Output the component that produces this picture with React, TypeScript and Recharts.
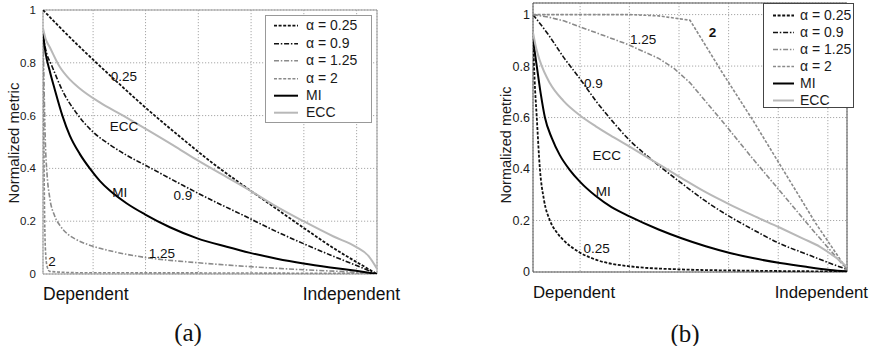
import React from 'react';
import { LineChart, Line, XAxis, YAxis, CartesianGrid, ReferenceDot, ReferenceArea } from 'recharts';

type Pt = [number, number];

// ---------- Panel (a) values: [position, normalized metric] ----------
const A_ALPHA_025: Pt[] = [[0,1],[0.05,0.935],[0.11,0.86],[0.16,0.8],[0.23,0.718],[0.3,0.638],[0.41,0.52],[0.51,0.418],[0.6,0.335],[0.69,0.255],[0.78,0.175],[0.89,0.082],[0.95,0.037],[1,0]];
const A_ALPHA_09: Pt[] = [[0,0.9],[0.01,0.84],[0.026,0.79],[0.06,0.69],[0.1,0.61],[0.148,0.54],[0.2,0.49],[0.25,0.45],[0.305,0.413],[0.42,0.335],[0.5,0.283],[0.6,0.222],[0.7,0.16],[0.78,0.115],[0.86,0.072],[0.937,0.033],[1,0]];
const A_ALPHA_125: Pt[] = [[0,0.92],[0.003,0.72],[0.007,0.5],[0.012,0.38],[0.02,0.29],[0.035,0.22],[0.05,0.185],[0.075,0.15],[0.1,0.13],[0.15,0.105],[0.2,0.088],[0.31,0.062],[0.46,0.043],[0.62,0.028],[0.78,0.016],[0.94,0.006],[1,0]];
const A_ALPHA_2: Pt[] = [[0,0.92],[0.002,0.6],[0.004,0.3],[0.007,0.1],[0.012,0.03],[0.02,0.01],[0.1,0.005],[0.5,0.004],[1,0.002]];
const A_MI: Pt[] = [[0,0.92],[0.003,0.88],[0.008,0.835],[0.02,0.77],[0.035,0.7],[0.058,0.6],[0.08,0.525],[0.11,0.455],[0.14,0.4],[0.17,0.353],[0.2,0.316],[0.25,0.268],[0.305,0.226],[0.38,0.177],[0.462,0.135],[0.55,0.103],[0.62,0.08],[0.7,0.058],[0.78,0.04],[0.86,0.025],[0.937,0.012],[1,0]];
const A_ECC: Pt[] = [[0,0.93],[0.008,0.89],[0.02,0.86],[0.05,0.785],[0.08,0.737],[0.11,0.703],[0.17,0.65],[0.24,0.6],[0.305,0.552],[0.4,0.48],[0.462,0.431],[0.55,0.367],[0.62,0.316],[0.69,0.262],[0.78,0.2],[0.87,0.142],[0.937,0.103],[0.975,0.068],[1,0.02]];

// ---------- Panel (b) values ----------
const B_ALPHA_025: Pt[] = [[0,0.92],[0.005,0.75],[0.012,0.6],[0.022,0.4],[0.035,0.28],[0.054,0.2],[0.075,0.155],[0.097,0.124],[0.15,0.075],[0.2,0.048],[0.309,0.022],[0.473,0.01],[0.7,0.005],[1,0.002]];
const B_ALPHA_09: Pt[] = [[0,1],[0.05,0.92],[0.1,0.83],[0.15,0.75],[0.2,0.665],[0.25,0.59],[0.309,0.51],[0.35,0.465],[0.415,0.4],[0.473,0.345],[0.55,0.275],[0.627,0.215],[0.7,0.165],[0.787,0.11],[0.87,0.07],[0.946,0.034],[1,0.01]];
const B_ALPHA_125: Pt[] = [[0,1],[0.05,0.99],[0.1,0.975],[0.2,0.93],[0.3,0.885],[0.4,0.83],[0.45,0.79],[0.5,0.735],[0.6,0.59],[0.7,0.44],[0.8,0.295],[0.9,0.15],[1,0.01]];
const B_ALPHA_2: Pt[] = [[0,1],[0.15,1],[0.309,1],[0.4,0.995],[0.5,0.978],[0.6,0.78],[0.7,0.59],[0.8,0.39],[0.9,0.19],[1,0.01]];
const B_MI: Pt[] = [[0,0.91],[0.005,0.86],[0.012,0.8],[0.025,0.69],[0.038,0.6],[0.06,0.52],[0.085,0.455],[0.118,0.395],[0.15,0.35],[0.2,0.295],[0.25,0.252],[0.309,0.215],[0.4,0.165],[0.473,0.131],[0.55,0.1],[0.627,0.074],[0.7,0.054],[0.787,0.035],[0.87,0.02],[0.946,0.008],[1,0.002]];
const B_ECC: Pt[] = [[0,0.93],[0.01,0.87],[0.022,0.82],[0.054,0.733],[0.097,0.665],[0.15,0.608],[0.2,0.566],[0.256,0.524],[0.309,0.486],[0.404,0.416],[0.473,0.365],[0.55,0.31],[0.627,0.262],[0.7,0.22],[0.787,0.172],[0.86,0.13],[0.914,0.098],[0.96,0.06],[1,0.02]];

// ---------- Labels / ticks ----------
const SERIES_NAMES = ['α = 0.25', 'α = 0.9', 'α = 1.25', 'α = 2', 'MI', 'ECC'];
const X_TICKS = [0, 0.15, 0.307, 0.465, 0.623, 0.781, 0.939, 1];
const Y_TICKS = [0, 0.2, 0.4, 0.6, 0.8, 1];
const X_END_LABELS = ['Dependent', 'Independent'];
const Y_LABEL = 'Normalized metric';
const CAPTIONS = ['(a)', '(b)'];

const A_CURVE_TEXT = ['0.25', 'ECC', 'MI', '0.9', '1.25', '2'];
const A_CURVE_T = [0.2425, 0.2425, 0.23, 0.419, 0.356, 0.027];
const A_CURVE_V = [0.748, 0.558, 0.31, 0.298, 0.079, 0.046];

const B_CURVE_TEXT = ['1.25', '2', '0.9', 'ECC', 'MI', '0.25'];
const B_CURVE_T = [0.351, 0.572, 0.192, 0.235, 0.224, 0.203];
const B_CURVE_V = [0.904, 0.929, 0.733, 0.454, 0.312, 0.092];

// ---------- Styles ----------
const SANS = '"Liberation Sans", Arial, Helvetica, sans-serif';
const STYLES = [
  { stroke: '#111', dash: '3 1.6', width: 1.8 },
  { stroke: '#111', dash: '5 1.8 1.5 1.8', width: 1.6 },
  { stroke: '#8a8a8a', dash: '5 1.8 1.5 1.8', width: 1.6 },
  { stroke: '#8a8a8a', dash: '3 1.6', width: 1.6 },
  { stroke: '#000', dash: undefined as string | undefined, width: 2 },
  { stroke: '#b8b8b8', dash: undefined as string | undefined, width: 2 },
];

const X_AXIS_H = 40;

type PanelProps = {
  series: Pt[][];
  linear: boolean[];
  texts: string[];
  ts: number[];
  vs: number[];
  boldText?: string;
  yMax: number;
  left: number;
  width: number;
  margin: { top: number; right: number; bottom: number; left: number };
  tickFont: number;
  tickMargin: number;
  endFont: number;
  endDy: number;
  endDx: number;
  border: string;
};

function Panel(p: PanelProps) {
  const xTick = (props: any) => {
    const { x, y, payload } = props;
    if (payload.value === 0) {
      return (
        <text x={x} y={y + p.endDy} textAnchor="start" fontSize={p.endFont} fontFamily={SANS} fill="#111">
          {X_END_LABELS[0]}
        </text>
      );
    }
    if (payload.value === 1) {
      return (
        <text x={x + p.endDx} y={y + p.endDy} textAnchor="end" fontSize={p.endFont} fontFamily={SANS} fill="#111">
          {X_END_LABELS[1]}
        </text>
      );
    }
    return <g />;
  };
  return (
    <div style={{ position: 'absolute', left: p.left, top: 0 }}>
      <LineChart width={p.width} height={346} margin={p.margin}>
        <CartesianGrid stroke="#a8a8a8" strokeWidth={1} strokeDasharray="1.2 1.8" vertical horizontal />
        <XAxis
          type="number"
          dataKey="t"
          domain={[0, 1]}
          ticks={X_TICKS}
          interval={0}
          height={X_AXIS_H}
          tickSize={0}
          tickMargin={0}
          tickLine={false}
          axisLine={false}
          tick={xTick}
          allowDataOverflow
        />
        <YAxis
          type="number"
          domain={[0, p.yMax]}
          ticks={Y_TICKS}
          interval={0}
          width={43}
          tickSize={0}
          tickMargin={p.tickMargin}
          tickLine={false}
          axisLine={false}
          tick={{ fontSize: p.tickFont, fill: '#1a1a1a', fontFamily: SANS }}
          allowDataOverflow
        />
        <ReferenceArea x1={0} x2={1} y1={0} y2={p.yMax} fill="none" fillOpacity={0} stroke={p.border} strokeWidth={1} ifOverflow="visible" />
        {p.series.map((pts, i) => (
          <Line
            key={SERIES_NAMES[i]}
            name={SERIES_NAMES[i]}
            data={pts.map(([t, v]) => ({ t, v }))}
            dataKey="v"
            type={p.linear[i] ? 'linear' : 'monotone'}
            stroke={STYLES[i].stroke}
            strokeWidth={STYLES[i].width}
            strokeDasharray={STYLES[i].dash}
            dot={false}
            activeDot={false}
            isAnimationActive={false}
          />
        ))}
        {p.texts.map((txt, i) => (
          <ReferenceDot
            key={'lab' + i}
            x={p.ts[i]}
            y={p.vs[i]}
            r={0}
            ifOverflow="visible"
            shape={(sp: any) => (
              <text
                x={sp.cx}
                y={sp.cy}
                textAnchor="middle"
                dominantBaseline="central"
                fontSize={13.5}
                fontFamily={SANS}
                fontWeight={txt === p.boldText ? 700 : 400}
                fill="#111"
              >
                {txt}
              </text>
            )}
          />
        ))}
      </LineChart>
    </div>
  );
}

function LegendBox(props: { left: number; top: number; width: number; height: number; border: string; padTop: number; rowH: number; sx: number; sLen: number; tx: number }) {
  return (
    <div
      style={{
        position: 'absolute',
        left: props.left,
        top: props.top,
        width: props.width,
        height: props.height,
        boxSizing: 'border-box',
        border: `1px solid ${props.border}`,
        background: '#fff',
        fontFamily: SANS,
        fontSize: 14,
        color: '#1a1a1a',
      }}
    >
      {SERIES_NAMES.map((n, i) => (
        <div key={n} style={{ position: 'absolute', left: 0, top: props.padTop + i * props.rowH, height: props.rowH, width: '100%' }}>
          <svg width={props.sx + props.sLen + 2} height={props.rowH} style={{ position: 'absolute', left: 0, top: 0 }}>
            <line
              x1={props.sx}
              x2={props.sx + props.sLen}
              y1={props.rowH / 2}
              y2={props.rowH / 2}
              stroke={STYLES[i].stroke}
              strokeWidth={STYLES[i].width}
              strokeDasharray={STYLES[i].dash}
            />
          </svg>
          <span style={{ position: 'absolute', left: props.tx, top: 0, lineHeight: `${props.rowH}px`, whiteSpace: 'nowrap' }}>{n}</span>
        </div>
      ))}
    </div>
  );
}

function RotLabel(props: { cx: number; cy: number; size: number }) {
  return (
    <div
      style={{
        position: 'absolute',
        left: props.cx,
        top: props.cy,
        transform: 'translate(-50%, -50%) rotate(-90deg)',
        whiteSpace: 'nowrap',
        fontFamily: SANS,
        fontSize: props.size,
        color: '#1a1a1a',
        lineHeight: 1,
      }}
    >
      {Y_LABEL}
    </div>
  );
}

function Caption(props: { cx: number; cy: number; text: string }) {
  return (
    <div
      style={{
        position: 'absolute',
        left: props.cx,
        top: props.cy,
        transform: 'translate(-50%, -50%)',
        fontFamily: '"Liberation Serif", "DejaVu Serif", serif',
        fontSize: 25,
        lineHeight: 1,
        color: '#111',
        whiteSpace: 'nowrap',
      }}
    >
      {props.text}
    </div>
  );
}

export default function App() {
  return (
    <div style={{ position: 'absolute', left: 0, top: 0, width: 876, height: 346, background: '#fff', overflow: 'hidden' }}>
      <Panel
        series={[A_ALPHA_025, A_ALPHA_09, A_ALPHA_125, A_ALPHA_2, A_MI, A_ECC]}
        linear={[false, false, false, false, false, false]}
        texts={A_CURVE_TEXT}
        ts={A_CURVE_T}
        vs={A_CURVE_V}
        yMax={1}
        left={0}
        width={420}
        margin={{ top: 10, right: 43, bottom: 72 - X_AXIS_H, left: 0 }}
        tickFont={11.5}
        tickMargin={7}
        endFont={17.5}
        endDy={25.5}
        endDx={23}
        border="#999"
      />
      <Panel
        series={[B_ALPHA_025, B_ALPHA_09, B_ALPHA_125, B_ALPHA_2, B_MI, B_ECC]}
        linear={[false, false, true, true, false, false]}
        texts={B_CURVE_TEXT}
        ts={B_CURVE_T}
        vs={B_CURVE_V}
        boldText="2"
        yMax={1.045}
        left={490}
        width={386}
        margin={{ top: 3, right: 29, bottom: 74 - X_AXIS_H, left: 0 }}
        tickFont={12.5}
        tickMargin={3}
        endFont={16.8}
        endDy={26}
        endDx={21}
        border="#555"
      />
      <LegendBox left={265} top={15} width={107} height={108} border="#999" padTop={1.3} rowH={17.4} sx={8} sLen={24} tx={40} />
      <LegendBox left={763} top={3} width={91} height={105} border="#444" padTop={2.5} rowH={17} sx={9} sLen={21} tx={36} />
      <RotLabel cx={13} cy={143} size={15} />
      <RotLabel cx={506} cy={145} size={14.5} />
      <Caption cx={188} cy={332} text={CAPTIONS[0]} />
      <Caption cx={685} cy={333} text={CAPTIONS[1]} />
    </div>
  );
}
